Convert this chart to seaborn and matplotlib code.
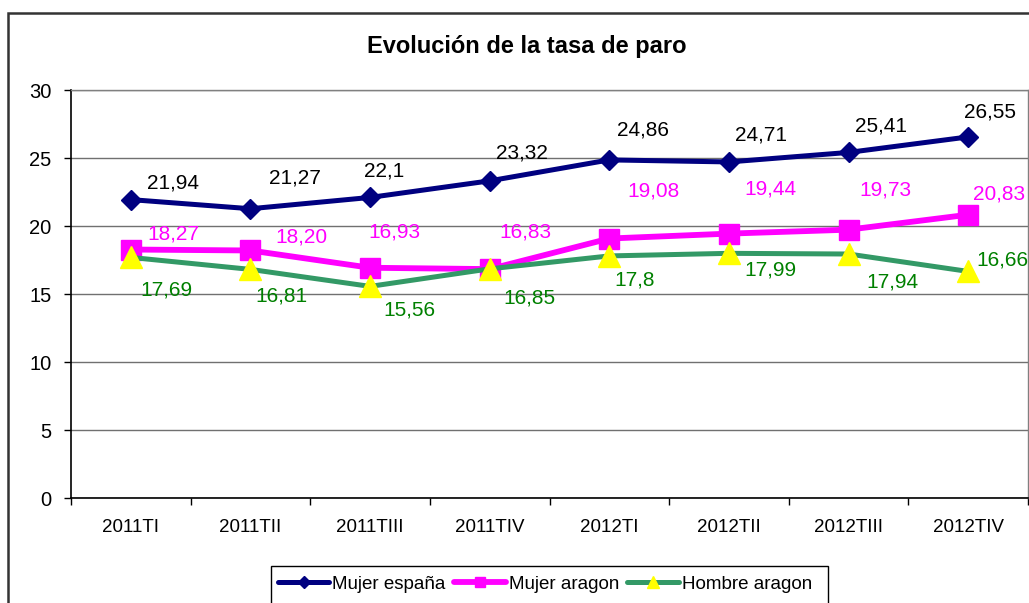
import pandas as pd
import seaborn as sns
import matplotlib.pyplot as plt
from matplotlib.lines import Line2D
from matplotlib.patches import Rectangle

# data
periodos = ["2011TI", "2011TII", "2011TIII", "2011TIV", "2012TI", "2012TII", "2012TIII", "2012TIV"]
mujer_espana = [21.94, 21.27, 22.1, 23.32, 24.86, 24.71, 25.41, 26.55]
mujer_aragon = [18.27, 18.20, 16.93, 16.83, 19.08, 19.44, 19.73, 20.83]
hombre_aragon = [17.69, 16.81, 15.56, 16.85, 17.8, 17.99, 17.94, 16.66]

lab_espana = ["21,94", "21,27", "22,1", "23,32", "24,86", "24,71", "25,41", "26,55"]
lab_mujer_ar = ["18,27", "18,20", "16,93", "16,83", "19,08", "19,44", "19,73", "20,83"]
lab_hombre_ar = ["17,69", "16,81", "15,56", "16,85", "17,8", "17,99", "17,94", "16,66"]

# label offsets in pixels (dx, dy), roughly as placed in the original
off_espana = [(42, 17), (44, 31), (14, 26), (32, 28), (34, 30), (32, 27), (32, 26), (22, 25)]
off_mujer_ar = [(43, 16), (51, 13), (24, 36), (36, 37), (44, 48), (42, 45), (37, 40), (5, 21)]
off_hombre_ar = [(36, -33), (31, -27), (39, -24), (40, -29), (25, -24), (42, -17), (44, -28), (8, 11)]

W, H = 1029, 603
sns.set_theme(style="white")
plt.rcParams['font.family'] = ['Liberation Sans', 'DejaVu Sans']
plt.rcParams['text.color'] = 'black'

fig = plt.figure(figsize=(W / 100, H / 100), dpi=100)
ax = fig.add_axes([71 / W, 1 - 498 / H, (1028 - 71) / W, (498 - 90) / H])

df = pd.DataFrame({"periodo": periodos * 3,
                   "tasa": mujer_espana + mujer_aragon + hombre_aragon,
                   "serie": ["Mujer españa"] * 8 + ["Mujer aragon"] * 8 + ["Hombre aragon"] * 8})

estilos = {
    "Mujer españa": dict(color="#000080", marker="D", markersize=10, mfc="#000080", mec="#000080", lw=3.6, lms=6),
    "Mujer aragon": dict(color="#FF00FF", marker="s", markersize=15, mfc="#FF00FF", mec="#FF00FF", lw=4.2, lms=7),
    "Hombre aragon": dict(color="#339966", marker="^", markersize=16, mfc="#FFFF00", mec="#FFFF00", lw=3.6, lms=9),
}
for serie, st in estilos.items():
    sub = df[df["serie"] == serie]
    sns.lineplot(data=sub, x="periodo", y="tasa", ax=ax, sort=False, legend=False,
                 color=st["color"], marker=st["marker"], markersize=st["markersize"],
                 markerfacecolor=st["mfc"], markeredgecolor=st["mec"], linewidth=st["lw"],
                 markeredgewidth=1, zorder=3)

# data labels
for vals, labs, offs, col in [(mujer_espana, lab_espana, off_espana, "black"),
                              (mujer_aragon, lab_mujer_ar, off_mujer_ar, "#FF00FF"),
                              (hombre_aragon, lab_hombre_ar, off_hombre_ar, "#008000")]:
    for i, (v, t, o) in enumerate(zip(vals, labs, offs)):
        ha = "left" if i == 7 and col != "black" else "center"
        ax.annotate(t, (i, v), xytext=o, textcoords="offset pixels", ha=ha, va="center",
                    fontsize=15, color=col, zorder=4, annotation_clip=False)

ax.set_xlim(-0.5, 7.5)
ax.set_ylim(0, 30)
ax.set_yticks(range(0, 31, 5))
ax.set_xticks(range(8))
ax.set_xticklabels(periodos)
ax.set_xticks([i - 0.5 for i in range(9)], minor=True)
ax.tick_params(axis="x", which="major", length=0, pad=15, labelsize=13.5, colors="black")
ax.tick_params(axis="x", which="minor", length=5, width=1, color="black", direction="out", bottom=True)
ax.tick_params(axis="y", length=5, width=1, color="black", direction="out", left=True, pad=9,
               labelsize=14.5, colors="black")
ax.set_xlabel("")
ax.set_ylabel("")
ax.yaxis.grid(True, color="#707070", linewidth=1)
ax.set_axisbelow(True)
for s in ["left", "bottom"]:
    ax.spines[s].set_color("black")
    ax.spines[s].set_linewidth(1.2)
for s in ["top", "right"]:
    ax.spines[s].set_color("#808080")
    ax.spines[s].set_linewidth(1)

fig.text(527 / W, 1 - 46 / H, "Evolución de la tasa de paro", ha="center", va="center",
         fontsize=17, fontweight="bold", color="black")

# outer chart border
fig.patches.append(Rectangle((8 / W, 1 - 640 / H), 1100 / W, (640 - 13) / H, transform=fig.transFigure,
                             fill=False, edgecolor="#333333", linewidth=1.8, clip_on=False))

# legend
handles = [Line2D([], [], color=st["color"], marker=st["marker"], markersize=st["lms"],
                  mfc=st["mfc"], mec=st["mec"], lw=st["lw"]) for st in estilos.values()]
leg = fig.legend(handles, list(estilos.keys()), loc="upper left",
                 bbox_to_anchor=(274 / W, 1 - 572 / H), frameon=False, ncol=3, fontsize=13.5,
                 handlelength=2.75, handletextpad=0.17, columnspacing=0.43, borderaxespad=0, borderpad=0.2)
for t in leg.get_texts():
    t.set_color("black")
fig.patches.append(Rectangle((271 / W, 1 - 640 / H), (828 - 271) / W, (640 - 566) / H,
                             transform=fig.transFigure, fill=False, edgecolor="black",
                             linewidth=1, clip_on=False))

fig.savefig("out.png", dpi=100)
